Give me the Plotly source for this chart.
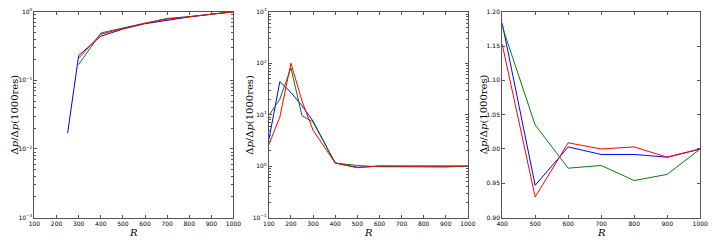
import plotly.graph_objects as go
from plotly.subplots import make_subplots

# Panel 1 (log y)
r1_blue = [250, 300, 400, 500, 600, 700, 800, 900, 1000]
p1_blue = [0.017, 0.23, 0.44, 0.56, 0.67, 0.76, 0.84, 0.92, 1.0]
r1_rg = [300, 400, 500, 600, 700, 800, 900, 1000]
p1_green = [0.17, 0.49, 0.58, 0.69, 0.80, 0.85, 0.92, 1.0]
p1_red = [0.21, 0.47, 0.57, 0.68, 0.78, 0.85, 0.92, 1.0]

# Panel 2 (log y)
r2 = [100, 150, 200, 250, 300, 400, 500, 600, 700, 800, 900, 1000]
p2_blue = [3.2, 44, 27, 15, 7.5, 1.15, 0.95, 1.0, 1.0, 1.0, 0.99, 1.0]
p2_green = [9.6, 20, 81, 9.6, 7.2, 1.15, 1.03, 0.97, 0.97, 0.96, 0.96, 1.0]
p2_red = [2.6, 9, 100, 18.5, 5, 1.15, 0.93, 1.01, 1.0, 1.0, 0.99, 1.0]

# Panel 3 (linear y)
r3 = [400, 500, 600, 700, 800, 900, 1000]
p3_blue = [1.1835, 0.947, 1.003, 0.992, 0.992, 0.988, 1.0]
p3_green = [1.179, 1.035, 0.972, 0.976, 0.954, 0.963, 1.0]
p3_red = [1.153, 0.930, 1.009, 1.000, 1.003, 0.988, 1.0]

BLUE, GREEN, RED = "#0000ff", "#008000", "#ff0000"

fig = make_subplots(rows=1, cols=3)

def add(x, y, color, col):
    fig.add_trace(go.Scatter(x=x, y=y, mode="lines", line=dict(color=color, width=1),
                             showlegend=False), row=1, col=col)

add(r1_blue, p1_blue, BLUE, 1)
add(r1_rg, p1_green, GREEN, 1)
add(r1_rg, p1_red, RED, 1)
add(r2, p2_blue, BLUE, 2)
add(r2, p2_green, GREEN, 2)
add(r2, p2_red, RED, 2)
add(r3, p3_blue, BLUE, 3)
add(r3, p3_green, GREEN, 3)
add(r3, p3_red, RED, 3)

tickfont = dict(family="DejaVu Sans", size=6, color="black")
axcommon = dict(showgrid=False, zeroline=False, showline=True, linecolor="#555555",
                linewidth=1, mirror="allticks", ticks="inside", ticklen=3,
                tickcolor="#555555", tickfont=tickfont)

doms = [(29/720, 232/720), (268/720, 471/720), (506/720, 708/720)]
ydom = (1 - 220/240, 1 - 8/240)

rvals = [100, 200, 300, 400, 500, 600, 700, 800, 900, 1000]
for i, (d0, d1) in enumerate(doms, start=1):
    if i < 3:
        fig.update_xaxes(range=[100, 1000], tickvals=rvals, row=1, col=i, domain=[d0, d1], **axcommon)
    else:
        fig.update_xaxes(range=[400, 1000], tickvals=rvals[3:], row=1, col=i, domain=[d0, d1], **axcommon)

def sup(e):
    s = str(e).replace("-", "\u2212")
    return "10<sup>" + s + "</sup>"

e1 = [-3, -2, -1, 0]
e2 = [-1, 0, 1, 2, 3]
minor = dict(ticks="inside", ticklen=2, tickcolor="#555555", dtick="D1", showgrid=False)
fig.update_yaxes(type="log", range=[-3, 0], tickvals=[10**e for e in e1],
                 ticktext=[sup(e) for e in e1], minor=minor, row=1, col=1,
                 domain=list(ydom), **axcommon)
fig.update_yaxes(type="log", range=[-1, 3], tickvals=[10.0**e for e in e2],
                 ticktext=[sup(e) for e in e2], minor=minor, row=1, col=2,
                 domain=list(ydom), **axcommon)
fig.update_yaxes(range=[0.9, 1.2], dtick=0.05, tickformat=".2f", row=1, col=3,
                 domain=list(ydom), **axcommon)

ytitle = "\u0394<i>p</i>/\u0394<i>p</i>(1000res)"
for xp in [9/720, 248/720, 487/720]:
    fig.add_annotation(text=ytitle, x=xp, y=(ydom[0] + ydom[1]) / 2, xref="paper", yref="paper",
                       textangle=-90, showarrow=False, font=dict(family="DejaVu Serif", size=10, color="black"),
                       xanchor="center", yanchor="middle")
for d0, d1 in doms:
    fig.add_annotation(text="<i>R</i>", x=(d0 + d1) / 2, y=0, xref="paper", yref="paper",
                       showarrow=False, font=dict(family="DejaVu Serif", size=10, color="black"),
                       xanchor="center", yanchor="bottom", yshift=-2, borderpad=0)

fig.update_layout(width=720, height=240, margin=dict(l=0, r=0, t=0, b=0),
                  paper_bgcolor="white", plot_bgcolor="white")
fig.write_html("out.html", config={"displayModeBar": False},
               post_script="document.body.style.margin='0';document.body.style.overflow='hidden';")
